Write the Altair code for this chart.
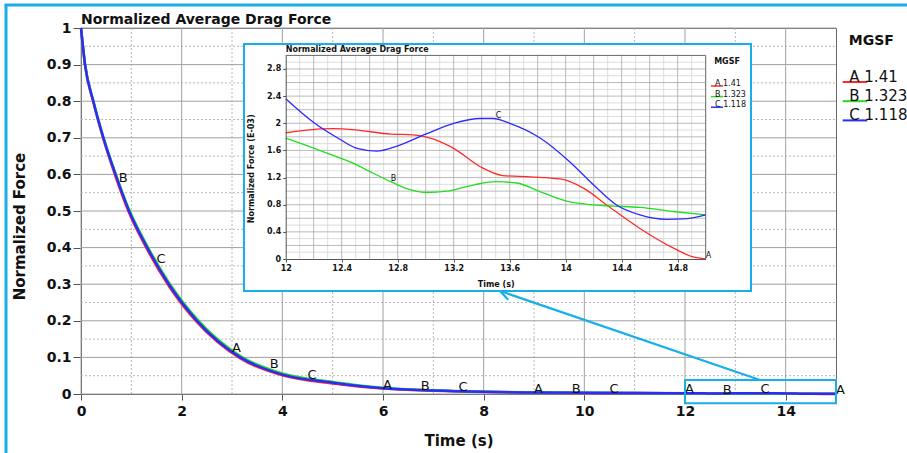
import math
import numpy as np
import pandas as pd
import altair as alt

FONT = "DejaVu Sans"
BLUE = "#17afe9"

# ---------------- data ----------------
SERIES = ["A 1.41", "B 1.323", "C 1.118"]
LETTERS = ["A", "B", "C"]
COLORS = ["#ff2b2b", "#22dd22", "#2b2bff"]

# main plot, 0 .. 11 s (normalized force)
t_main = [0, 0.08, 0.245, 0.445, 0.685, 0.955, 1.315, 1.745, 2.305, 3.165,
          4.0, 5.0, 6.0, 7.0, 8.0, 9.0, 10.0, 11.0]
a_main = [1.0, 0.899, 0.797, 0.696, 0.595, 0.495, 0.395, 0.295, 0.196, 0.097,
          0.051, 0.029, 0.015, 0.009, 0.0055, 0.0035, 0.0030, 0.0025]
b_main = [1.0, 0.901, 0.801, 0.702, 0.603, 0.504, 0.405, 0.305, 0.205, 0.104,
          0.056, 0.033, 0.017, 0.0100, 0.0062, 0.0043, 0.0033, 0.0030]
c_main = [1.0, 0.900, 0.800, 0.700, 0.600, 0.500, 0.400, 0.300, 0.200, 0.100,
          0.053, 0.031, 0.016, 0.0095, 0.0060, 0.0042, 0.0032, 0.0027]

# inset, 12 .. 15 s (normalized force, E-03)
a_t = [12, 12.15, 12.34, 12.51, 12.75, 12.91, 13.05, 13.2, 13.39, 13.55,
       13.75, 13.96, 14.13, 14.29, 14.53, 14.77, 14.91, 15.0]
a_v = [1.86, 1.90, 1.92, 1.90, 1.84, 1.83, 1.77, 1.63, 1.36, 1.23,
       1.21, 1.18, 1.04, 0.80, 0.45, 0.16, 0.03, 0.0]
b_t = [12, 12.27, 12.46, 12.63, 12.75, 12.86, 13.0, 13.15, 13.34, 13.5,
       13.65, 13.82, 14.0, 14.17, 14.34, 14.53, 14.77, 15.0]
b_v = [1.78, 1.58, 1.43, 1.26, 1.14, 1.04, 0.98, 1.00, 1.09, 1.14,
       1.12, 0.99, 0.855, 0.80, 0.78, 0.76, 0.70, 0.65]
c_t = [12, 12.2, 12.39, 12.51, 12.65, 12.79, 13.0, 13.2, 13.39, 13.48,
       13.6, 13.82, 14.03, 14.2, 14.36, 14.53, 14.72, 14.84, 15.0]
c_v = [2.36, 2.01, 1.76, 1.63, 1.59, 1.66, 1.84, 2.0, 2.07, 2.07,
       2.0, 1.78, 1.43, 1.09, 0.80, 0.65, 0.585, 0.59, 0.65]

# curve markers (letters)
lab_t = [0.75, 1.5, 3.0, 3.75, 4.5, 6.0, 6.75, 7.5, 9.0, 9.75, 10.5, 12.0, 12.75, 13.5, 15.0]
lab_s = ["B", "C", "A", "B", "C", "A", "B", "C", "A", "B", "C", "A", "B", "C", "A"]
ilab_t = [12.75, 13.5, 15.0]
ilab_s = ["B", "C", "A"]

# ticks / grid
x_major = [0, 2, 4, 6, 8, 10, 12, 14]
x_minor = [1, 3, 5, 7, 9, 11, 13]
y_major = [0, 0.1, 0.2, 0.3, 0.4, 0.5, 0.6, 0.7, 0.8, 0.9, 1.0]
y_minor = [0.05, 0.15, 0.25, 0.35, 0.45, 0.55, 0.65, 0.75, 0.85, 0.95]
ix_ticks = [12, 12.4, 12.8, 13.2, 13.6, 14, 14.4, 14.8]
ix_major = [12.2, 12.4, 12.6, 12.8, 13.0, 13.2, 13.4, 13.6, 13.8, 14.0, 14.2, 14.4, 14.6, 14.8]
ix_minor = [12.1, 12.3, 12.5, 12.7, 12.9, 13.1, 13.3, 13.5, 13.7, 13.9, 14.1, 14.3, 14.5, 14.7, 14.9]
iy_ticks = [0, 0.4, 0.8, 1.2, 1.6, 2.0, 2.4, 2.8]
iy_major = [0.2, 0.4, 0.6, 0.8, 1.0, 1.2, 1.4, 1.6, 1.8, 2.0, 2.2, 2.4, 2.6, 2.8]
iy_minor = [0.1, 0.3, 0.5, 0.7, 0.9, 1.1, 1.3, 1.5, 1.7, 1.9, 2.1, 2.3, 2.5, 2.7, 2.9]

# ---------------- tables ----------------
inset_t = {"A": a_t, "B": b_t, "C": c_t}
inset_v = {"A": a_v, "B": b_v, "C": c_v}
main_v = {"A": a_main, "B": b_main, "C": c_main}

rows_main, rows_inset = [], []
full_t, full_v = {}, {}
for name, let in zip(SERIES, LETTERS):
    ft = list(t_main) + list(inset_t[let])
    fv = list(main_v[let]) + [v * 1e-3 for v in inset_v[let]]
    full_t[let], full_v[let] = ft, fv
    for t, v in zip(ft, fv):
        rows_main.append({"t": t, "v": v, "series": name})
    for t, v in zip(inset_t[let], inset_v[let]):
        rows_inset.append({"t": t, "v": v, "series": name})
df_main = pd.DataFrame(rows_main)
df_inset = pd.DataFrame(rows_inset)

df_lab = pd.DataFrame({
    "t": lab_t, "s": lab_s,
    "v": [float(np.interp(t, full_t[s], full_v[s])) for t, s in zip(lab_t, lab_s)],
})
df_ilab = pd.DataFrame({
    "t": ilab_t, "s": ilab_s,
    "v": [float(np.interp(t, inset_t[s], inset_v[s])) for t, s in zip(ilab_t, ilab_s)],
})

# ---------------- layout (pixels) ----------------
PL, PT, PR, PB = 81, 28, 71, 59
W, H = 907 - PL - PR, 453 - PT - PB
IX0, IX1 = 285.7 - PL, 705.7 - PL       # inset plot area x range
IY0, IY1 = 259.0 - PT, 55.4 - PT        # inset plot area y range (bottom, top)

sx = alt.Scale(domain=[0, 15], nice=False, zero=False)
sy = alt.Scale(domain=[0, 1], nice=False)
isx = alt.Scale(domain=[12, 15], range=[IX0, IX1], nice=False, zero=False)
isy = alt.Scale(domain=[0, 3], range=[IY0, IY1], nice=False)

ax_x = alt.Axis(values=x_major, format="d", title="Time (s)", grid=False,
                domainColor="#555", tickColor="#555", tickSize=6, labelPadding=4,
                labelFont=FONT, labelFontSize=14, labelFontWeight="bold", labelColor="#111",
                labelFlush=False, titleFont=FONT, titleFontSize=15, titleFontWeight="bold",
                titleColor="#111", titleY=51.7, titleBaseline="alphabetic")
ax_y = alt.Axis(values=y_major, format=".1~f", title="Normalized Force", grid=False,
                domainColor="#555", tickColor="#555", tickSize=8, labelPadding=2,
                labelFont=FONT, labelFontSize=14, labelFontWeight="bold", labelColor="#111",
                labelFlush=False, titleFont=FONT, titleFontSize=15, titleFontWeight="bold",
                titleColor="#111", titleX=-56.5, titleY=198, titleBaseline="alphabetic")
iax_x = alt.Axis(orient="bottom", offset=-(H - IY0), values=ix_ticks, format=".1~f",
                 title="Time (s)", grid=False, domainColor="#555", tickColor="#555",
                 tickSize=3, labelPadding=2, labelFont=FONT, labelFontSize=8,
                 labelFontWeight="bold", labelColor="#111", labelFlush=False,
                 titleFont=FONT, titleFontSize=8, titleFontWeight="bold", titleColor="#111",
                 titleY=25.3, titleBaseline="middle", zindex=2)
iax_y = alt.Axis(orient="left", offset=-IX0, values=iy_ticks, format=".1~f",
                 title="Normalized Force (E-03)", grid=False, domainColor="#555",
                 tickColor="#555", tickSize=3, labelPadding=2, labelFont=FONT,
                 labelFontSize=8, labelFontWeight="bold", labelColor="#111", labelFlush=False,
                 titleFont=FONT, titleFontSize=8, titleFontWeight="bold", titleColor="#111",
                 titleX=-34, titleY=140.3, titleBaseline="middle", zindex=2)

one = pd.DataFrame({"k": [0]})

# ---------------- main plot ----------------
g_xmin = alt.Chart(pd.DataFrame({"g": x_minor})).mark_rule(color="#b8b8b8", strokeDash=[2, 2], strokeWidth=1).encode(
    x=alt.X("g:Q", scale=sx, axis=ax_x), y=alt.value(0), y2=alt.value(H))
g_xmaj = alt.Chart(pd.DataFrame({"g": x_major})).mark_rule(color="#a0a0a0", strokeWidth=1).encode(
    x=alt.X("g:Q", scale=sx, axis=ax_x), y=alt.value(0), y2=alt.value(H))
g_ymin = alt.Chart(pd.DataFrame({"g": y_minor})).mark_rule(color="#b8b8b8", strokeDash=[2, 2], strokeWidth=1).encode(
    y=alt.Y("g:Q", scale=sy, axis=ax_y), x=alt.value(0), x2=alt.value(W))
g_ymaj = alt.Chart(pd.DataFrame({"g": y_major})).mark_rule(color="#a0a0a0", strokeWidth=1).encode(
    y=alt.Y("g:Q", scale=sy, axis=ax_y), x=alt.value(0), x2=alt.value(W))

main_legend = alt.Legend(orient="none", legendX=834.3 - PL, legendY=6, direction="vertical",
                         title="MGSF", titleFont=FONT, titleFontSize=14, titleFontWeight="bold",
                         titleColor="#111", titlePadding=26.5, titleBaseline="top",
                         titleAnchor="middle",
                         labelFont=FONT, labelFontSize=15, labelColor="#111",
                         labelOffset=0, labelBaseline="alphabetic",
                         symbolType="M0.45,0H12.75", symbolSize=16, symbolStrokeWidth=2,
                         rowPadding=2.2, padding=0)
lines = alt.Chart(df_main).mark_line(strokeWidth=2.5, interpolate="monotone").encode(
    x=alt.X("t:Q", scale=sx, axis=ax_x),
    y=alt.Y("v:Q", scale=sy, axis=ax_y),
    color=alt.Color("series:N", scale=alt.Scale(domain=SERIES, range=COLORS), legend=main_legend),
    order=alt.Order("t:Q"),
)
labels = alt.Chart(df_lab).mark_text(align="left", baseline="middle", dy=-4, font=FONT,
                                     fontSize=13, color="#111").encode(
    x=alt.X("t:Q", scale=sx, axis=ax_x), y=alt.Y("v:Q", scale=sy, axis=ax_y), text="s:N")

zoom_box = alt.Chart(one).mark_rect(fillOpacity=0, stroke=BLUE, strokeWidth=2).encode(
    x=alt.XDatum(12, type="quantitative", scale=sx, axis=ax_x), x2=alt.X2Datum(15),
    y=alt.YDatum(0.038, type="quantitative", scale=sy, axis=ax_y), y2=alt.Y2Datum(-0.025))

# arrow from the zoom box to the inset
tail = (760 - PL, 380 - PT)
tip = (500 - PL, 291 - PT)
ux, uy = tail[0] - tip[0], tail[1] - tip[1]
ln = math.hypot(ux, uy)
ux, uy = ux / ln, uy / ln
heads = []
for ang in (math.radians(28), -math.radians(28)):
    hx = ux * math.cos(ang) - uy * math.sin(ang)
    hy = ux * math.sin(ang) + uy * math.cos(ang)
    heads.append((tip[0] + 12 * hx, tip[1] + 12 * hy))

arrow = alt.Chart(one).mark_rule(color=BLUE, strokeWidth=2.2).encode(
    x=alt.value(tail[0]), y=alt.value(tail[1]), x2=alt.value(tip[0]), y2=alt.value(tip[1]))
arrow_h = [alt.Chart(one).mark_rule(color=BLUE, strokeWidth=2.2).encode(
    x=alt.value(tip[0]), y=alt.value(tip[1]), x2=alt.value(hx), y2=alt.value(hy)) for hx, hy in heads]

# outer frame of the picture
frame_l = alt.Chart(one).mark_rule(color=BLUE, strokeWidth=3).encode(
    x=alt.value(6 - PL), y=alt.value(5 - PT), y2=alt.value(453 - PT))
frame_t = alt.Chart(one).mark_rule(color=BLUE, strokeWidth=3).encode(
    x=alt.value(4.5 - PL), x2=alt.value(907 - PL), y=alt.value(5 - PT))

main = alt.layer(g_xmin, g_ymin, g_xmaj, g_ymaj, lines, labels, zoom_box, arrow, *arrow_h,
                 frame_l, frame_t)

# ---------------- inset ----------------
ibg = alt.Chart(one).mark_rect(fill="white", stroke=BLUE, strokeWidth=2).encode(
    x=alt.value(244 - PL), x2=alt.value(751 - PL), y=alt.value(44 - PT), y2=alt.value(291 - PT))
ig_xmin = alt.Chart(pd.DataFrame({"g": ix_minor})).mark_rule(color="#d4d4d4", strokeWidth=0.8).encode(
    x=alt.X("g:Q", scale=isx, axis=iax_x), y=alt.value(IY1), y2=alt.value(IY0))
ig_xmaj = alt.Chart(pd.DataFrame({"g": ix_major})).mark_rule(color="#a8a8a8", strokeWidth=0.8).encode(
    x=alt.X("g:Q", scale=isx, axis=iax_x), y=alt.value(IY1), y2=alt.value(IY0))
ig_ymin = alt.Chart(pd.DataFrame({"g": iy_minor})).mark_rule(color="#d4d4d4", strokeWidth=0.8).encode(
    y=alt.Y("g:Q", scale=isy, axis=iax_y), x=alt.value(IX0), x2=alt.value(IX1))
ig_ymaj = alt.Chart(pd.DataFrame({"g": iy_major})).mark_rule(color="#a8a8a8", strokeWidth=0.8).encode(
    y=alt.Y("g:Q", scale=isy, axis=iax_y), x=alt.value(IX0), x2=alt.value(IX1))
iframe_t = alt.Chart(one).mark_rule(color="#666", strokeWidth=1).encode(
    x=alt.value(IX0), x2=alt.value(IX1), y=alt.value(IY1))
iframe_r = alt.Chart(one).mark_rule(color="#666", strokeWidth=1).encode(
    x=alt.value(IX1), y=alt.value(IY1), y2=alt.value(IY0))
ititle = alt.Chart(one).mark_text(align="left", baseline="middle", font=FONT, fontSize=8,
                                  fontWeight="bold", color="#111").encode(
    x=alt.value(IX0), y=alt.value(50 - PT), text=alt.value("Normalized Average Drag Force"))

inset_legend = alt.Legend(orient="none", legendX=707 - PL, legendY=58 - PT, direction="vertical",
                          title="MGSF", titleFont=FONT, titleFontSize=8, titleFontWeight="bold",
                          titleColor="#111", titlePadding=16, titleBaseline="top",
                          titleAnchor="middle",
                          labelFont=FONT, labelFontSize=8, labelColor="#111",
                          labelOffset=0, labelBaseline="alphabetic",
                          symbolType="M0,0H8", symbolSize=9, symbolStrokeWidth=1.5,
                          rowPadding=1.6, padding=0)
ilines = alt.Chart(df_inset).mark_line(strokeWidth=1.3, interpolate="monotone").encode(
    x=alt.X("t:Q", scale=isx, axis=iax_x),
    y=alt.Y("v:Q", scale=isy, axis=iax_y),
    color=alt.Color("series:N", scale=alt.Scale(domain=SERIES, range=COLORS), legend=inset_legend),
    order=alt.Order("t:Q"),
)
ilabels = alt.Chart(df_ilab).mark_text(align="left", baseline="middle", dy=-3, font=FONT,
                                       fontSize=8, color="#111").encode(
    x=alt.X("t:Q", scale=isx, axis=iax_x), y=alt.Y("v:Q", scale=isy, axis=iax_y), text="s:N")

inset = alt.layer(ibg, ig_xmin, ig_ymin, ig_xmaj, ig_ymaj, iframe_t, iframe_r, ilines, ilabels, ititle)

chart = alt.layer(main, inset).resolve_scale(
    x="independent", y="independent", color="independent"
).resolve_axis(x="independent", y="independent").resolve_legend(color="independent").properties(
    width=W, height=H,
    padding={"left": PL, "top": PT, "right": PR, "bottom": PB},
    autosize=alt.AutoSizeParams(type="none"),
    background="white",
    title=alt.Title("Normalized Average Drag Force", anchor="start", frame="group", font=FONT,
                    fontSize=14, fontWeight="bold", color="#111", baseline="alphabetic",
                    offset=0, dy=34.5),
).configure_view(stroke="#666", strokeWidth=1)

chart.save("out.html", embed_options={"renderer": "svg", "actions": False})
